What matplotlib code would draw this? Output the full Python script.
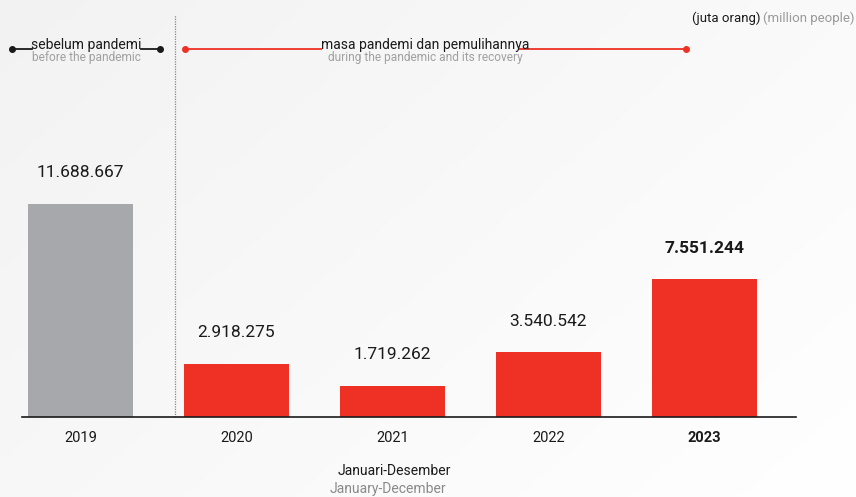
import numpy as np
import matplotlib.pyplot as plt
from matplotlib.lines import Line2D

plt.rcParams['font.family'] = ['Roboto', 'DejaVu Sans']

years = ['2019', '2020', '2021', '2022', '2023']
visitors = [11688667, 2918275, 1719262, 3540542, 7551244]
value_labels = ['11.688.667', '2.918.275', '1.719.262', '3.540.542', '7.551.244']
bar_colors = ['#a7a8ab', '#ee3124', '#ee3124', '#ee3124', '#ee3124']

W, H = 856, 497
fig = plt.figure(figsize=(W / 100, H / 100), dpi=100, facecolor='#f6f6f6')


def fx(x):
    return x / W


def fy(y):
    return 1 - y / H


# soft diagonal background shading
bg = fig.add_axes([0, 0, 1, 1], zorder=-10)
gx, gy = np.meshgrid(np.linspace(0, 1, 200), np.linspace(0, 1, 120))
shade = 0.95 + 0.05 * (0.6 * gx + 0.4 * gy)
bg.imshow(np.dstack([shade] * 3).clip(0, 1), aspect='auto', extent=[0, 1, 0, 1])
bg.axis('off')

# main axes: x axis line spans the whole chart width
ax = fig.add_axes([fx(22), fy(417), (796 - 22) / W, (417 - 15) / H])
ax.set_facecolor('none')
ax.set_xlim(-0.375, 4.587)
ax.set_ylim(0, 22.06e6)

x = range(len(years))
ax.bar(x, visitors, width=0.67, color=bar_colors, zorder=2)

for i, (v, lab) in enumerate(zip(visitors, value_labels)):
    ax.annotate(lab, (i, v), xytext=(0, 17), textcoords='offset points',
                ha='center', va='bottom', fontsize=12.5, color='#1a1a1a',
                fontweight='bold' if i == 4 else 'normal')

ax.set_xticks(list(x))
ax.set_xticklabels(years, fontsize=10.5, color='#1a1a1a')
ax.get_xticklabels()[-1].set_fontweight('bold')
ax.tick_params(axis='x', length=0, pad=10)
ax.set_yticks([])
for s in ['top', 'right', 'left']:
    ax.spines[s].set_visible(False)
ax.spines['bottom'].set_color('#1a1a1a')
ax.spines['bottom'].set_linewidth(1.2)

# divider between the two periods
ax.axvline(0.606, color='#888888', linestyle=(0, (1, 1)), linewidth=0.9, zorder=1)


def seg(x0, x1, y, color):
    fig.add_artist(Line2D([fx(x0), fx(x1)], [fy(y), fy(y)], color=color, linewidth=1.3))


def dot(x0, y, color):
    fig.add_artist(Line2D([fx(x0)], [fy(y)], marker='o', markersize=4, color=color))


# period headers
seg(12, 32, 49, '#1a1a1a')
seg(141, 160, 49, '#1a1a1a')
dot(12, 49, '#1a1a1a')
dot(160, 49, '#1a1a1a')
fig.text(fx(86), fy(45), 'sebelum pandemi', ha='center', va='center', fontsize=10, color='#1a1a1a')
fig.text(fx(86), fy(57), 'before the pandemic', ha='center', va='center', fontsize=8.6, color='#a0a0a0')

seg(185, 321, 49, '#ee3124')
seg(519, 686, 49, '#ee3124')
dot(185, 49, '#ee3124')
dot(686, 49, '#ee3124')
fig.text(fx(425), fy(45), 'masa pandemi dan pemulihannya', ha='center', va='center', fontsize=10, color='#1a1a1a')
fig.text(fx(425), fy(57), 'during the pandemic and its recovery', ha='center', va='center', fontsize=8.6, color='#a0a0a0')

# unit note
fig.text(fx(760), fy(18), '(juta orang)', ha='right', va='center', fontsize=9.5, color='#1a1a1a')
fig.text(fx(763), fy(18), '(million people)', ha='left', va='center', fontsize=9.5, color='#9a9a9a')

# period note
fig.text(fx(394), fy(471), 'Januari-Desember', ha='center', va='center', fontsize=10, color='#1a1a1a')
fig.text(fx(388), fy(489), 'January-December', ha='center', va='center', fontsize=10, color='#8a8a8a')

fig.savefig('out.png', dpi=100, facecolor=fig.get_facecolor())
